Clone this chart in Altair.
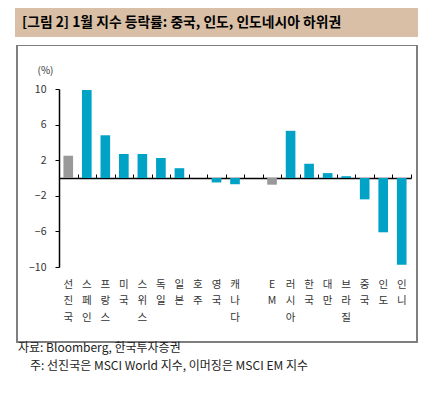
import altair as alt
import pandas as pd

# ---- data ----
countries = ["선진국", "스페인", "프랑스", "미국", "스위스", "독일", "일본", "호주", "영국", "캐나다",
             "EM", "러시아", "한국", "대만", "브라질", "중국", "인도", "인니"]
changes = [2.5, 9.9, 4.8, 2.7, 2.7, 2.25, 1.1, 0.0, -0.5, -0.7,
           -0.75, 5.3, 1.6, 0.55, 0.2, -2.4, -6.1, -9.75]
aggregates = ["선진국", "EM"]
y_ticks = [10, 6, 2, -2, -6, -10]

title_text = "[그림 2] 1월 지수 등락률: 중국, 인도, 인도네시아 하위권"
unit_text = "(%)"
source_text = "자료: Bloomberg, 한국투자증권"
note_text = "주: 선진국은 MSCI World 지수, 이머징은 MSCI EM 지수"

GAP = " "
domain = countries[:10] + [GAP] + countries[10:]

df = pd.DataFrame({"country": countries, "change": changes})
df["group"] = ["agg" if c in aggregates else "country" for c in countries]

FONT = "Noto Sans CJK KR"
W, H = 352, 178

xscale = alt.Scale(domain=domain, paddingInner=0, paddingOuter=0)
yscale = alt.Scale(domain=[-10, 10], nice=False)

bars = alt.Chart(df).mark_bar(width={"band": 0.52}).encode(
    x=alt.X("country:N", scale=xscale, sort=domain,
            axis=alt.Axis(orient="bottom", title=None, domain=False, ticks=False,
                          labelAngle=0, labelPadding=12, labelFontSize=10.5,
                          labelFont=FONT, labelColor="#333333", labelLineHeight=16.5,
                          labelBaseline="top",
                          labelExpr="split(datum.label, '')")),
    y=alt.Y("change:Q", scale=yscale,
            axis=alt.Axis(values=y_ticks, title=None, grid=False, domainColor="#000000",
                          domainWidth=1.5, tickColor="#000000", tickSize=4,
                          labelPadding=9, labelFontSize=10.5, labelFont=FONT,
                          labelColor="#333333")),
    color=alt.Color("group:N", scale=alt.Scale(domain=["agg", "country"],
                                               range=["#999999", "#00A2C5"]), legend=None),
)

zero_axis = alt.Chart(df).mark_tick(opacity=0).encode(
    x=alt.X("country:N", scale=xscale, sort=domain,
            axis=alt.Axis(orient="top", offset=-(H / 2), title=None, labels=False,
                          domainColor="#000000", domainWidth=1.5, tickColor="#000000",
                          tickSize=4, tickBand="extent")),
)

one = alt.Data(values=[{"k": 0}])
FRAME = "#7F7F7F"

title_bar = alt.Chart(one).mark_rect(color="#D9BFA6").encode(
    x=alt.value(-44), x2=alt.value(359), y=alt.value(-81), y2=alt.value(-52))
title = alt.Chart(one).mark_text(text=title_text, align="left", baseline="middle",
                                 font=FONT, fontSize=13.8, fontWeight="bold",
                                 color="#000000").encode(x=alt.value(-37), y=alt.value(-66))
frame_left = alt.Chart(one).mark_rect(color=FRAME).encode(
    x=alt.value(-43), x2=alt.value(-41), y=alt.value(-44), y2=alt.value(254))
frame_top = alt.Chart(one).mark_rect(color=FRAME).encode(
    x=alt.value(-43), x2=alt.value(359), y=alt.value(-44), y2=alt.value(-43))
frame_right = alt.Chart(one).mark_rect(color=FRAME).encode(
    x=alt.value(357), x2=alt.value(359), y=alt.value(-44), y2=alt.value(254))
frame_bottom = alt.Chart(one).mark_rect(color=FRAME).encode(
    x=alt.value(-43), x2=alt.value(359), y=alt.value(252), y2=alt.value(254))
unit = alt.Chart(one).mark_text(text=unit_text, align="center", baseline="middle",
                                font=FONT, fontSize=10, color="#333333").encode(
    x=alt.value(-13.5), y=alt.value(-18.5))
source = alt.Chart(one).mark_text(text=source_text, align="left", baseline="middle",
                                  font=FONT, fontSize=12, color="#222222").encode(
    x=alt.value(-41), y=alt.value(259))
note = alt.Chart(one).mark_text(text=note_text, align="left", baseline="middle",
                                font=FONT, fontSize=12, color="#222222").encode(
    x=alt.value(-29), y=alt.value(277))

chart = alt.layer(title_bar, title, frame_left, frame_top, frame_right, frame_bottom,
                  unit, bars, zero_axis, source, note).properties(
    width=W, height=H,
    autosize=alt.AutoSizeParams(type="none"),
    padding={"left": 51, "top": 81, "right": 25, "bottom": 122},
).configure_view(stroke=None)

chart.save("out.html", embed_options={"renderer": "svg", "actions": False})
